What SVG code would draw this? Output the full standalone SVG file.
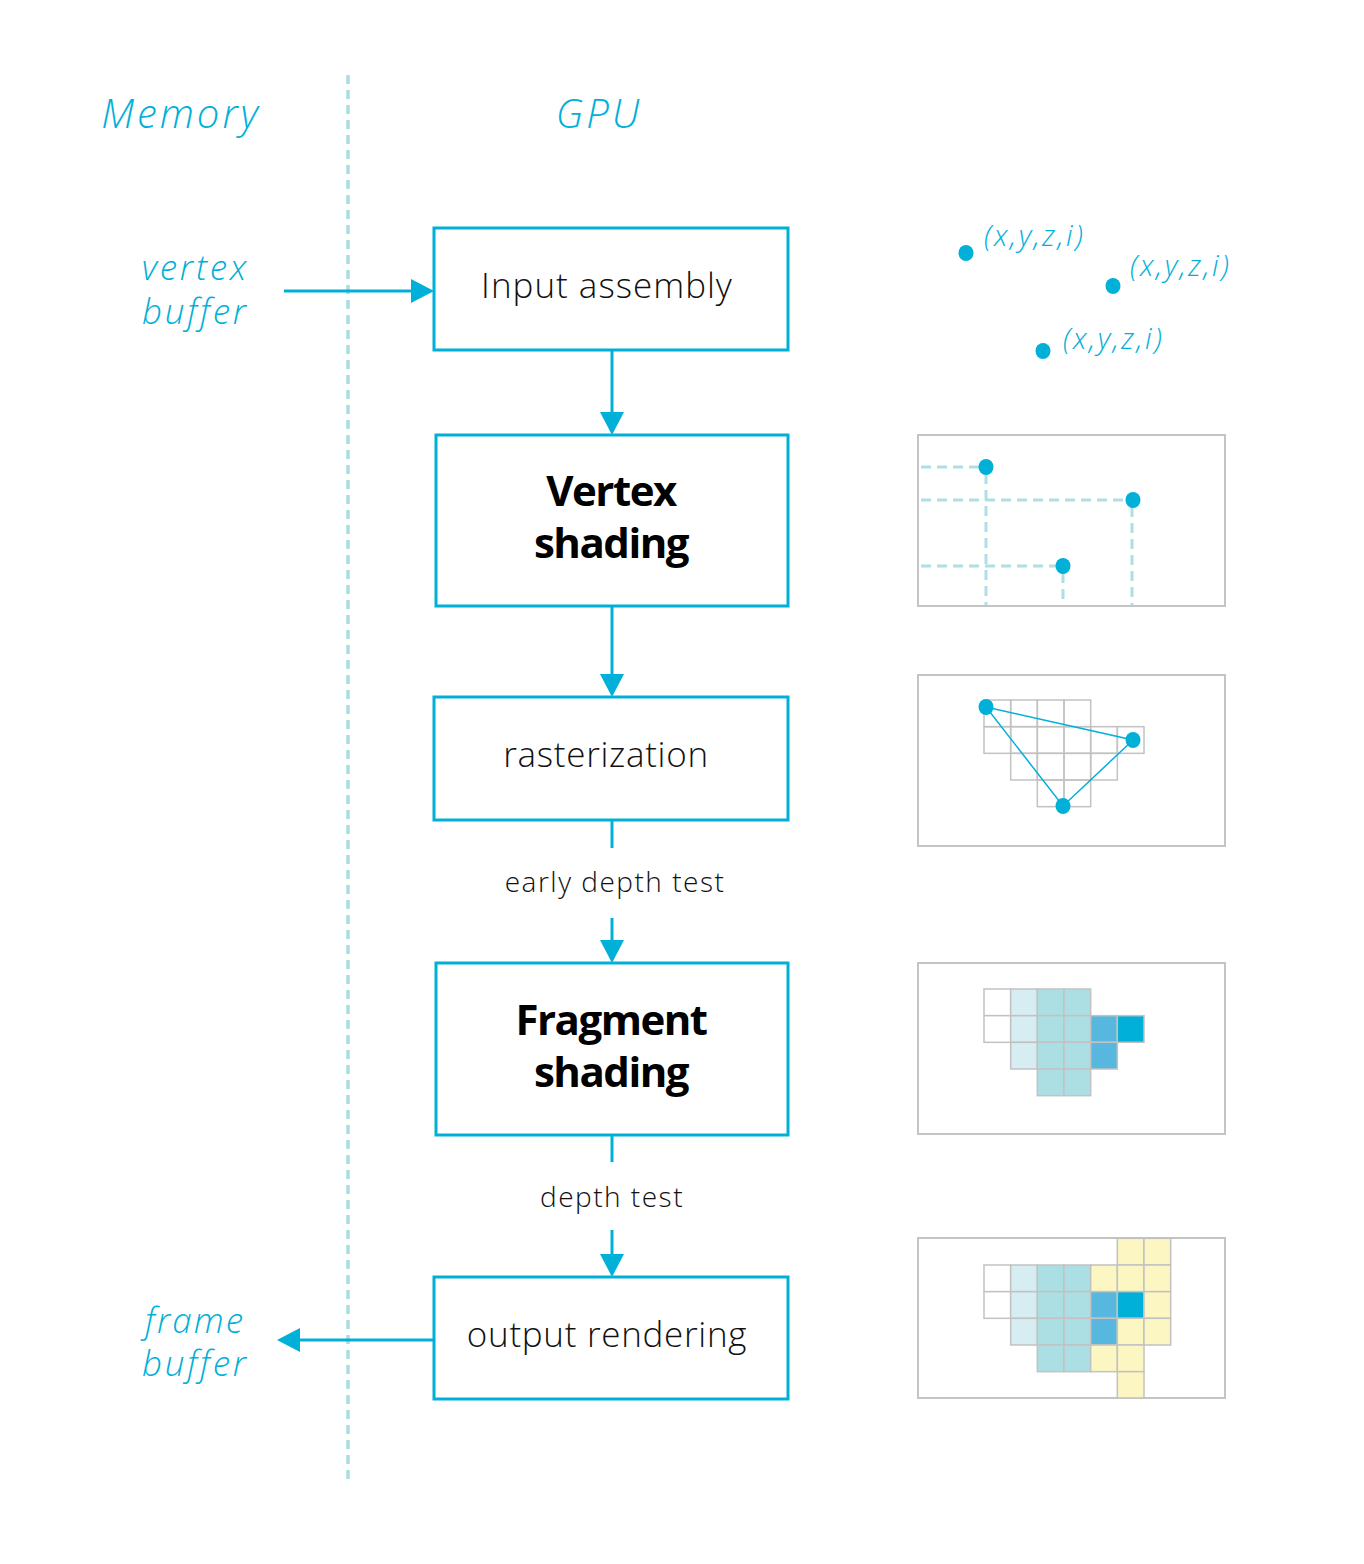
<svg xmlns="http://www.w3.org/2000/svg" width="1364" height="1564" viewBox="0 0 1364 1564">
<defs>
<style>
.bg{fill:#ffffff}
.box{fill:#ffffff;stroke:#00b0d8;stroke-width:3}
.panel{fill:#ffffff;stroke:#c4c4c4;stroke-width:2}
.conn{stroke:#00b0d8;stroke-width:3;fill:none}
.head{fill:#00b0d8}
.divider{stroke:#a9dde3;stroke-width:3.5;stroke-dasharray:9 6;fill:none}
.guide{stroke:#addfe4;stroke-width:3;stroke-dasharray:10 6;fill:none}
.lbl{font-family:"Open Sans","Noto Sans",sans-serif;font-weight:300;fill:#111111;text-anchor:middle}
.bold{font-family:"Open Sans","Noto Sans",sans-serif;font-weight:700;fill:#000000;text-anchor:middle;font-size:42px;letter-spacing:-1.5px}
.side{font-family:"Open Sans","Noto Sans",sans-serif;font-weight:300;font-style:italic;fill:#00b0d8}
.dot{fill:#00b0d8}
.cell{stroke:#c2c2c2;stroke-width:1.5}
.W{fill:#ffffff}.L{fill:#d6edf1}.M{fill:#acdfe4}.B2{fill:#58b7de}.B{fill:#00b0d8}.Y{fill:#fcf7c2}
.tri{stroke:#00b0d8;stroke-width:1.5;fill:none}
</style>
</defs>
<rect class="bg" x="0" y="0" width="1364" height="1564"/>

<g id="headers">
<line class="divider" x1="348" y1="75" x2="348" y2="1485"/>
<text class="side" x="181" y="128" font-size="40" text-anchor="middle" letter-spacing="3">Memory</text>
<text class="side" x="599" y="128" font-size="40" text-anchor="middle" letter-spacing="3">GPU</text>
</g>

<g id="vertex-buffer">
<text class="side" x="249" y="280" font-size="35" text-anchor="end" letter-spacing="2.8">vertex</text>
<text class="side" x="249" y="324" font-size="35" text-anchor="end" letter-spacing="2.8">buffer</text>
</g>

<g id="frame-buffer">
<text class="side" x="245" y="1333" font-size="35" text-anchor="end" letter-spacing="2">frame</text>
<text class="side" x="249" y="1376" font-size="35" text-anchor="end" letter-spacing="2.8">buffer</text>
</g>

<g id="connectors">
<line class="conn" x1="284" y1="291" x2="414" y2="291"/>
<polygon class="head" points="434,291 411,279 411,303"/>
<line class="conn" x1="612" y1="350" x2="612" y2="414"/>
<polygon class="head" points="612,435 600,412 624,412"/>
<line class="conn" x1="612" y1="606" x2="612" y2="676"/>
<polygon class="head" points="612,697 600,674 624,674"/>
<line class="conn" x1="612" y1="820" x2="612" y2="848"/>
<line class="conn" x1="612" y1="918" x2="612" y2="942"/>
<polygon class="head" points="612,963 600,940 624,940"/>
<line class="conn" x1="612" y1="1135" x2="612" y2="1162"/>
<line class="conn" x1="612" y1="1230" x2="612" y2="1256"/>
<polygon class="head" points="612,1277 600,1254 624,1254"/>
<line class="conn" x1="434" y1="1340" x2="298" y2="1340"/>
<polygon class="head" points="277,1340 300,1328 300,1352"/>
<text class="lbl" x="615" y="892" font-size="28" letter-spacing="1.5">early depth test</text>
<text class="lbl" x="612" y="1207" font-size="28" letter-spacing="1.5">depth test</text>
</g>

<g id="input-assembly">
<rect class="box" x="434" y="228" width="354" height="122"/>
<text class="lbl" x="607" y="298" font-size="35" letter-spacing="1">Input assembly</text>
</g>

<g id="vertex-shading">
<rect class="box" x="436" y="435" width="352" height="171"/>
<text class="bold" x="611" y="506">Vertex</text>
<text class="bold" x="611" y="558">shading</text>
</g>

<g id="rasterization">
<rect class="box" x="434" y="697" width="354" height="123"/>
<text class="lbl" x="606" y="767" font-size="35" letter-spacing="0.7">rasterization</text>
</g>

<g id="fragment-shading">
<rect class="box" x="436" y="963" width="352" height="172"/>
<text class="bold" x="611" y="1035">Fragment</text>
<text class="bold" x="611" y="1087">shading</text>
</g>

<g id="output-rendering">
<rect class="box" x="434" y="1277" width="354" height="122"/>
<text class="lbl" x="607" y="1347" font-size="35" letter-spacing="0.7">output rendering</text>
</g>

<g id="panel-vertices">
<ellipse class="dot" cx="966" cy="253" rx="7.5" ry="8"/>
<ellipse class="dot" cx="1113" cy="286" rx="7.5" ry="8"/>
<ellipse class="dot" cx="1043" cy="351" rx="7.5" ry="8"/>
<text class="side" x="984" y="246" font-size="29" letter-spacing="2.5">(x,y,z,i)</text>
<text class="side" x="1130" y="276" font-size="29" letter-spacing="2.5">(x,y,z,i)</text>
<text class="side" x="1063" y="349" font-size="29" letter-spacing="2.5">(x,y,z,i)</text>
</g>

<g id="panel-vertex-shading">
<rect class="panel" x="918" y="435" width="307" height="171"/>
<line class="guide" x1="921" y1="467" x2="980" y2="467"/>
<line class="guide" x1="921" y1="500" x2="1127" y2="500"/>
<line class="guide" x1="921" y1="566" x2="1057" y2="566"/>
<line class="guide" x1="986" y1="474" x2="986" y2="605"/>
<line class="guide" x1="1063" y1="573" x2="1063" y2="605"/>
<line class="guide" x1="1132" y1="507" x2="1132" y2="605"/>
<ellipse class="dot" cx="986" cy="467" rx="7.5" ry="8"/>
<ellipse class="dot" cx="1133" cy="500" rx="7.5" ry="8"/>
<ellipse class="dot" cx="1063" cy="566" rx="7.5" ry="8"/>
</g>

<g id="panel-rasterization">
<rect class="panel" x="918" y="675" width="307" height="171"/>
<g fill="none" class="cell">
<rect x="984" y="700" width="26.67" height="26.67"/>
<rect x="1010.67" y="700" width="26.67" height="26.67"/>
<rect x="1037.33" y="700" width="26.67" height="26.67"/>
<rect x="1064" y="700" width="26.67" height="26.67"/>
<rect x="984" y="726.67" width="26.67" height="26.67"/>
<rect x="1010.67" y="726.67" width="26.67" height="26.67"/>
<rect x="1037.33" y="726.67" width="26.67" height="26.67"/>
<rect x="1064" y="726.67" width="26.67" height="26.67"/>
<rect x="1090.67" y="726.67" width="26.67" height="26.67"/>
<rect x="1117.33" y="726.67" width="26.67" height="26.67"/>
<rect x="1010.67" y="753.33" width="26.67" height="26.67"/>
<rect x="1037.33" y="753.33" width="26.67" height="26.67"/>
<rect x="1064" y="753.33" width="26.67" height="26.67"/>
<rect x="1090.67" y="753.33" width="26.67" height="26.67"/>
<rect x="1037.33" y="780" width="26.67" height="26.67"/>
<rect x="1064" y="780" width="26.67" height="26.67"/>
</g>
<polygon class="tri" points="986,707 1133,740 1063,806"/>
<ellipse class="dot" cx="986" cy="707" rx="7.5" ry="8"/>
<ellipse class="dot" cx="1133" cy="740" rx="7.5" ry="8"/>
<ellipse class="dot" cx="1063" cy="806" rx="7.5" ry="8"/>
</g>

<g id="panel-fragment-shading">
<rect class="panel" x="918" y="963" width="307" height="171"/>
<rect class="cell W" x="984" y="989" width="26.67" height="26.67"/>
<rect class="cell L" x="1010.67" y="989" width="26.67" height="26.67"/>
<rect class="cell M" x="1037.33" y="989" width="26.67" height="26.67"/>
<rect class="cell M" x="1064" y="989" width="26.67" height="26.67"/>
<rect class="cell W" x="984" y="1015.67" width="26.67" height="26.67"/>
<rect class="cell L" x="1010.67" y="1015.67" width="26.67" height="26.67"/>
<rect class="cell M" x="1037.33" y="1015.67" width="26.67" height="26.67"/>
<rect class="cell M" x="1064" y="1015.67" width="26.67" height="26.67"/>
<rect class="cell B2" x="1090.67" y="1015.67" width="26.67" height="26.67"/>
<rect class="cell B" x="1117.33" y="1015.67" width="26.67" height="26.67"/>
<rect class="cell L" x="1010.67" y="1042.33" width="26.67" height="26.67"/>
<rect class="cell M" x="1037.33" y="1042.33" width="26.67" height="26.67"/>
<rect class="cell M" x="1064" y="1042.33" width="26.67" height="26.67"/>
<rect class="cell B2" x="1090.67" y="1042.33" width="26.67" height="26.67"/>
<rect class="cell M" x="1037.33" y="1069" width="26.67" height="26.67"/>
<rect class="cell M" x="1064" y="1069" width="26.67" height="26.67"/>
</g>

<g id="panel-output-rendering">
<rect class="panel" x="918" y="1238" width="307" height="160"/>
<rect class="cell Y" x="1117.33" y="1238.33" width="26.67" height="26.67"/>
<rect class="cell Y" x="1144" y="1238.33" width="26.67" height="26.67"/>
<rect class="cell W" x="984" y="1265" width="26.67" height="26.67"/>
<rect class="cell L" x="1010.67" y="1265" width="26.67" height="26.67"/>
<rect class="cell M" x="1037.33" y="1265" width="26.67" height="26.67"/>
<rect class="cell M" x="1064" y="1265" width="26.67" height="26.67"/>
<rect class="cell Y" x="1090.67" y="1265" width="26.67" height="26.67"/>
<rect class="cell Y" x="1117.33" y="1265" width="26.67" height="26.67"/>
<rect class="cell Y" x="1144" y="1265" width="26.67" height="26.67"/>
<rect class="cell W" x="984" y="1291.67" width="26.67" height="26.67"/>
<rect class="cell L" x="1010.67" y="1291.67" width="26.67" height="26.67"/>
<rect class="cell M" x="1037.33" y="1291.67" width="26.67" height="26.67"/>
<rect class="cell M" x="1064" y="1291.67" width="26.67" height="26.67"/>
<rect class="cell B2" x="1090.67" y="1291.67" width="26.67" height="26.67"/>
<rect class="cell B" x="1117.33" y="1291.67" width="26.67" height="26.67"/>
<rect class="cell Y" x="1144" y="1291.67" width="26.67" height="26.67"/>
<rect class="cell L" x="1010.67" y="1318.33" width="26.67" height="26.67"/>
<rect class="cell M" x="1037.33" y="1318.33" width="26.67" height="26.67"/>
<rect class="cell M" x="1064" y="1318.33" width="26.67" height="26.67"/>
<rect class="cell B2" x="1090.67" y="1318.33" width="26.67" height="26.67"/>
<rect class="cell Y" x="1117.33" y="1318.33" width="26.67" height="26.67"/>
<rect class="cell Y" x="1144" y="1318.33" width="26.67" height="26.67"/>
<rect class="cell M" x="1037.33" y="1345" width="26.67" height="26.67"/>
<rect class="cell M" x="1064" y="1345" width="26.67" height="26.67"/>
<rect class="cell Y" x="1090.67" y="1345" width="26.67" height="26.67"/>
<rect class="cell Y" x="1117.33" y="1345" width="26.67" height="26.67"/>
<rect class="cell Y" x="1117.33" y="1371.67" width="26.67" height="26.33"/>
</g>
</svg>
